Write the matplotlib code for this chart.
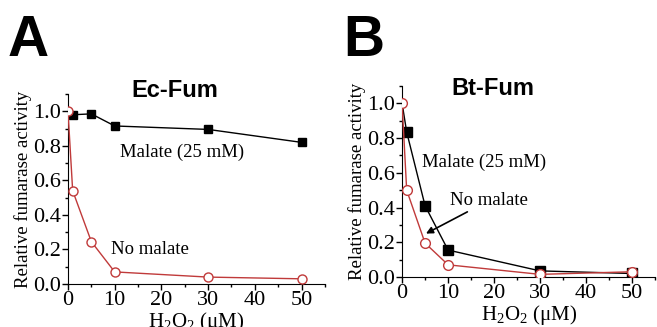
import numpy as np
import matplotlib.pyplot as plt
from matplotlib.ticker import MultipleLocator

h2o2 = [0, 1, 5, 10, 30, 50]

ec_malate = [1.0, 0.98, 0.985, 0.915, 0.895, 0.82]
ec_none = [1.0, 0.54, 0.245, 0.07, 0.04, 0.03]

bt_malate = [1.0, 0.835, 0.41, 0.155, 0.035, 0.02]
bt_none = [1.0, 0.50, 0.195, 0.07, 0.015, 0.03]

red = '#c03a3a'
serif = 'Liberation Serif'
sans = 'Liberation Sans'

plt.rcParams['mathtext.fontset'] = 'custom'
plt.rcParams['mathtext.rm'] = serif
plt.rcParams['mathtext.it'] = serif

fig = plt.figure(figsize=(6.57, 3.27), dpi=100)
axA = fig.add_axes([0.1035, 0.1315, 0.391, 0.581])
axB = fig.add_axes([0.612, 0.153, 0.385, 0.584])


def style(ax, title, tx, ty):
    ax.set_xlim(0, 55)
    ax.set_ylim(0, 1.1)
    ax.spines['top'].set_visible(False)
    ax.spines['right'].set_visible(False)
    ax.xaxis.set_major_locator(MultipleLocator(10))
    ax.xaxis.set_minor_locator(MultipleLocator(5))
    ax.yaxis.set_major_locator(MultipleLocator(0.2))
    ax.yaxis.set_minor_locator(MultipleLocator(0.1))
    ax.yaxis.set_major_formatter(plt.FuncFormatter(lambda v, p: '%.1f' % v))
    ax.tick_params(which='major', direction='out', length=4, width=1, labelsize=16, pad=1)
    ax.tick_params(which='minor', direction='out', length=2, width=1)
    for lab in ax.get_xticklabels() + ax.get_yticklabels():
        lab.set_fontfamily(serif)
    ax.set_ylabel('Relative fumarase activity', fontsize=13.5, family=serif, labelpad=1)
    ax.set_xlabel('H$_2$O$_2$ (\u03bcM)', fontsize=15, family=serif, labelpad=0)
    ax.set_title(title, fontsize=17, fontweight='bold', family=sans, x=tx, y=ty, pad=0)


# panel A
axA.plot(h2o2, ec_malate, color='black', lw=1, marker='s', ms=6,
         markevery=list(range(1, 6)), zorder=3)
axA.plot(h2o2, ec_none, color=red, lw=1, marker='o', ms=6.5,
         mfc='white', mec=red, zorder=4)
style(axA, 'Ec-Fum', 0.416, 0.984)
axA.text(11.1, 0.76, 'Malate (25 mM)', fontsize=13.5, family=serif, va='center')
axA.text(9.1, 0.20, 'No malate', fontsize=13.5, family=serif, va='center')

# panel B
axB.plot(h2o2, bt_malate, color='black', lw=1, marker='s', ms=7,
         markevery=list(range(1, 6)), zorder=3)
axB.plot(h2o2, bt_none, color=red, lw=1, marker='o', ms=7,
         mfc='white', mec=red, zorder=4)
style(axB, 'Bt-Fum', 0.36, 0.953)
axB.text(4.3, 0.66, 'Malate (25 mM)', fontsize=13.5, family=serif, va='center')
axB.annotate('No malate', xy=(5.2, 0.25), xytext=(10.4, 0.44),
             fontsize=13.5, family=serif, va='center',
             arrowprops=dict(arrowstyle='-|>', color='black', lw=1.2,
                             shrinkA=0, shrinkB=0, mutation_scale=10))

fig.text(0.012, 0.83, 'A', fontsize=41, fontweight='bold', family=sans)
fig.text(0.522, 0.83, 'B', fontsize=41, fontweight='bold', family=sans)

fig.savefig('out.png', dpi=100)
